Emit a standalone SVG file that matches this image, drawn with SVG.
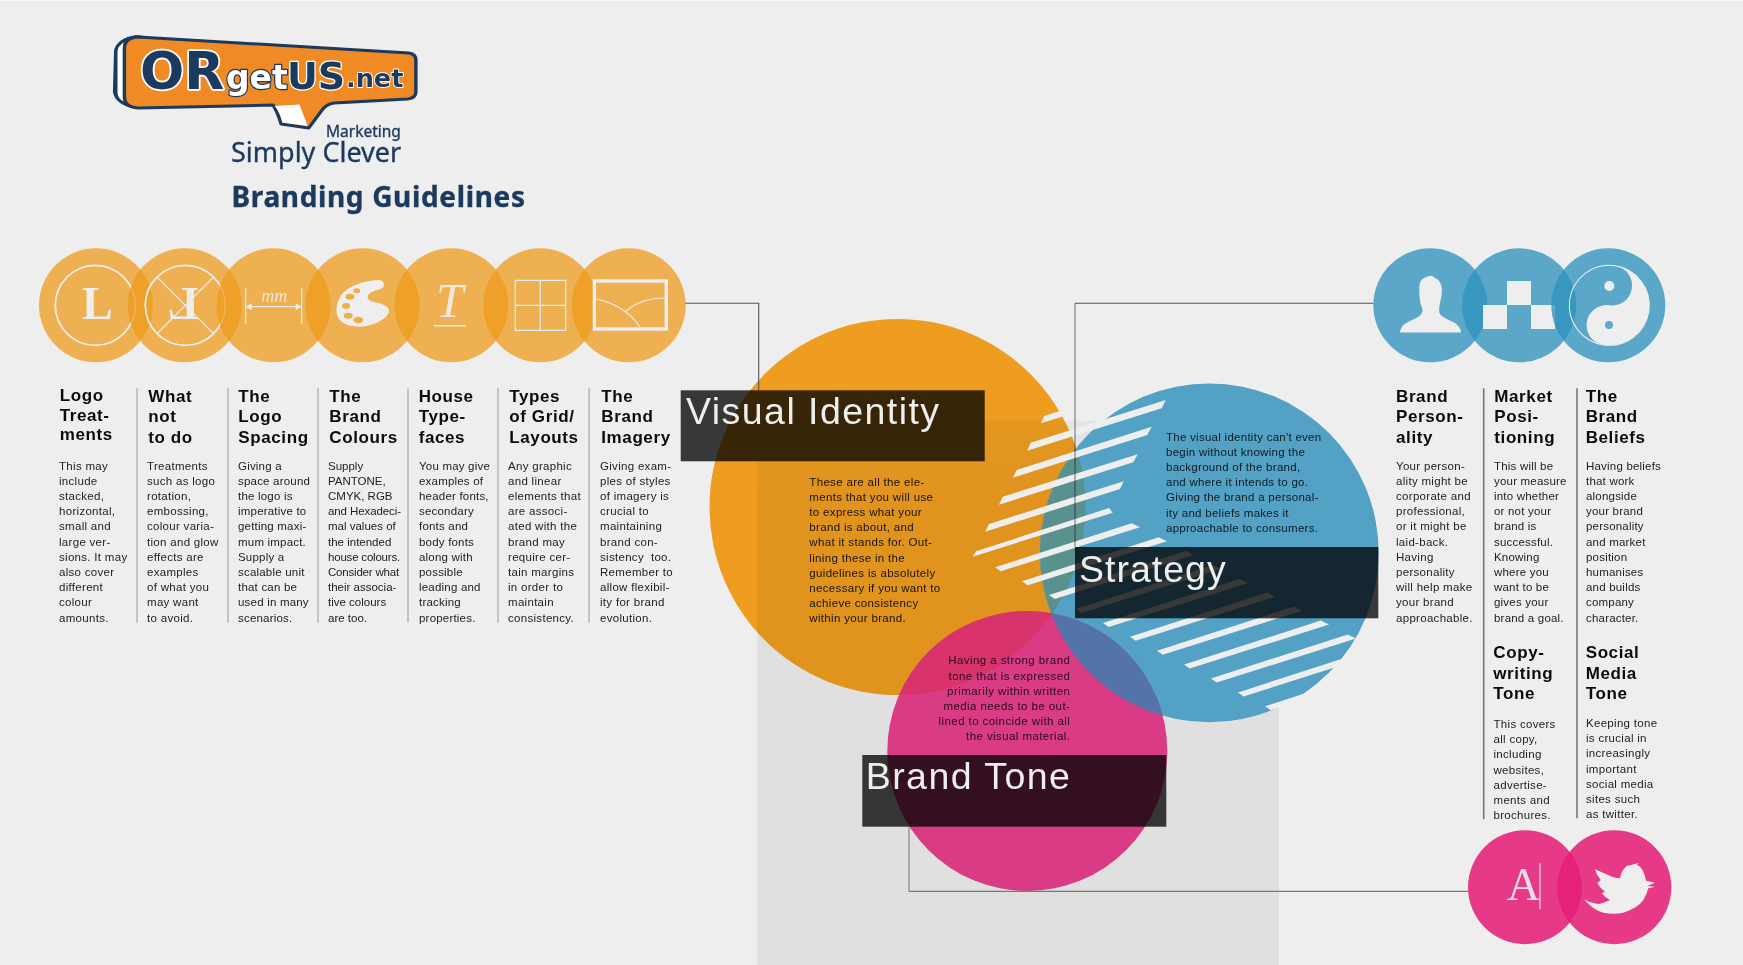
<svg xmlns="http://www.w3.org/2000/svg" width="1743" height="965" viewBox="0 0 1743 965">
<style>
text{font-family:"Liberation Sans",Arial,sans-serif}
.h{font-size:17px;font-weight:700;letter-spacing:.6px;fill:#0a0a0a}
.b{font-size:11.5px;letter-spacing:.3px;fill:#222;transform:translateY(.4px)}
.c{font-size:11.5px;letter-spacing:.33px;fill:#1a1208;transform:translateY(.4px)}
.t{font-size:37.5px;letter-spacing:1.45px;fill:#eee}
.or{fill:rgb(238,155,28);fill-opacity:.75}
.bl{fill:rgb(46,146,190);fill-opacity:.77}
.pk{fill:rgb(229,30,121);fill-opacity:.87}
.dark{fill:#3c3c3c;mix-blend-mode:multiply}
.ln{fill:none;stroke:#eee;stroke-width:1.2}
.ring{fill:none;stroke:#eee;stroke-width:1.8}
.thick{fill:none;stroke:#eee;stroke-width:3.4}
.div{stroke:#b5b5b5;stroke-width:1.5}
.div2{stroke:#777;stroke-width:1.6}
.stripe{fill:#eee}
.sf{font-family:"Liberation Serif","Times New Roman",serif;fill:#eee}
.brand{font-family:"Noto Sans",sans-serif;fill:#1c3a5e;stroke:#1c3a5e;stroke-width:.35px}
.word{font-family:"DejaVu Sans",sans-serif;font-weight:700;paint-order:stroke;stroke-linejoin:round}
</style>
<defs>
<linearGradient id="g" x1="0" y1="0" x2="0" y2="1"><stop offset="0" stop-color="#f6f6f6"/><stop offset=".25" stop-color="#f0f0f0"/><stop offset="1" stop-color="#f0f0f0"/></linearGradient>
<clipPath id="cO"><circle cx="897.5" cy="507" r="188"/></clipPath>
<clipPath id="cB"><circle cx="1209.3" cy="552.8" r="169.4"/></clipPath>
</defs>
<rect width="1743" height="965" fill="#eeeeee"/>
<rect width="1743" height="1" fill="#fafafa"/>

<g id="logo">
<g transform="scale(1.152 1)">
<path d="M118 35Q102 38 99 50L98 92Q100 105 118 109L125 109L125 36Z" fill="#1c3a5e"/>
<path d="M108 42Q102 46 102 52L102 92Q102 99 108 102Z" fill="#fff"/>
<path d="M120 37L355 53Q361 54 361 60L361 92Q361 98 354 99L290 103Q283 104 279 111L268 128L244 124Q241 112 237 105L120 108Q108 107 108 97L108 48Q108 38 120 37Z" fill="#f08a24" stroke="#1c3a5e" stroke-width="3" stroke-linejoin="round"/>
<path d="M238.500 106L260 104.500L267 126L245 122.500Q243 112 238.500 106Z" fill="#fff"/>
</g>
<text class="word" y="89">
<tspan x="140" font-size="52" fill="#1c3a5e" stroke="#fff" stroke-width="3.500">OR</tspan>
<tspan x="226" font-size="33" fill="#fff" stroke="#1c3a5e" stroke-width="2.500">get</tspan>
<tspan x="287" font-size="38" fill="#1c3a5e" stroke="#fff" stroke-width="2.500">US</tspan>
<tspan x="346" y="87" font-size="25.500" fill="#1c3a5e" stroke="#fff" stroke-width="1.800">.net</tspan>
</text>
<text class="brand" x="326" y="137.300" font-size="15.500">Marketing</text>
<text class="brand" x="231" y="161.700" font-size="27">Simply Clever</text>
<text class="brand" x="231.500" y="206.700" font-size="28" font-weight="700" letter-spacing=".65">Branding Guidelines</text>
</g>

<g id="grey-panel"><rect x="757.300" y="420.700" width="521.700" height="544.300" fill="url(#g)" style="mix-blend-mode:multiply"/></g>

<g id="visual-identity-circle"><circle cx="897.500" cy="507" r="188" fill="#ee9d20"/></g>
<rect x="757.300" y="420.700" width="521.700" height="300" fill="url(#g)" style="mix-blend-mode:multiply" clip-path="url(#cO)"/>
<g id="strategy-circle">
<circle cx="1209.300" cy="552.800" r="169.400" fill="#53a2c6"/>
<circle cx="1209.300" cy="552.800" r="169.400" fill="#59918f" clip-path="url(#cO)"/>
</g>
<g id="stripes">
<polygon class="stripe" points="1041,423.300 1044.300,416 1105,396.500 1100,405"/>
<polygon class="stripe" points="1027,450.700 1030.700,442.700 1165.700,400 1161.700,408.300"/>
<polygon class="stripe" points="1013,477.700 1016.700,470 1151.700,426.700 1147.300,435"/>
<polygon class="stripe" points="999,504.700 1002.700,496.700 1137.700,454.300 1133.300,462.300"/>
<polygon class="stripe" points="985.300,531.700 989,524 1123.700,481.300 1120,489"/>
<polygon class="stripe" points="972.700,556.700 976,551.300 1109,508 1112.700,512.700"/>
<polygon class="stripe" points="995,567.300 1000.700,571.300 1140,527.300 1131.700,523.300"/>
<polygon class="stripe" points="1022,581.200 1027.700,585.200 1167,541.200 1158.700,537.200"/>
<polygon class="stripe" points="1049,595.100 1054.700,599.100 1194,555.100 1185.700,551.100"/>
<polygon class="stripe" points="1076,609 1081.700,613 1221,569 1212.700,565"/>
<polygon class="stripe" points="1103,622.900 1108.700,626.900 1248,582.900 1239.700,578.900"/>
<polygon class="stripe" points="1130,636.800 1135.700,640.800 1275,596.800 1266.700,592.800"/>
<polygon class="stripe" points="1157,650.700 1162.700,654.700 1302,610.700 1293.700,606.700"/>
<polygon class="stripe" points="1184,664.600 1189.700,668.600 1329,624.600 1320.700,620.600"/>
<polygon class="stripe" points="1211,678.500 1216.700,682.500 1356,638.500 1347.700,634.500"/>
<polygon class="stripe" points="1238,692.400 1243.700,696.400 1355,661 1346,657.500"/>
<polygon class="stripe" points="1265,706.300 1270.700,710.300 1320,695 1312,691"/>
</g>
<g id="brand-tone-circle">
<circle cx="1027.300" cy="751" r="140" fill="#d93c84"/>
<circle cx="1027.300" cy="751" r="140" fill="#d9336c" clip-path="url(#cO)"/>
<circle cx="1027.300" cy="751" r="140" fill="#5373a9" clip-path="url(#cB)"/>
</g>

<g id="connectors" fill="none">
<path d="M685 303.300H758.700V390" stroke="#555" stroke-width="1.100"/>
<path d="M1373.300 303.300H1075" stroke="#555" stroke-width="1.100"/>
<path d="M1075 303.300V547" stroke="#a0a0a0" stroke-width="1.500" style="mix-blend-mode:multiply"/>
<path d="M909 826.700V891.300" stroke="#999" stroke-width="1.500"/>
<path d="M909 891.300H1468.300" stroke="#777" stroke-width="1.200"/>
</g>

<g id="visual-identity">
<rect class="dark" x="680.700" y="390.300" width="304" height="71"/>
<text class="t" x="686" y="424">Visual Identity</text>
<text class="c" y="485.300"><tspan x="809.300">These are all the ele-</tspan><tspan x="809.300" dy="15.200">ments that you will use</tspan><tspan x="809.300" dy="15.200">to express what your</tspan><tspan x="809.300" dy="15.200">brand is about, and</tspan><tspan x="809.300" dy="15.200">what it stands for. Out-</tspan><tspan x="809.300" dy="15.200">lining these in the</tspan><tspan x="809.300" dy="15.200">guidelines is absolutely</tspan><tspan x="809.300" dy="15.200">necessary if you want to</tspan><tspan x="809.300" dy="15.200">achieve consistency</tspan><tspan x="809.300" dy="15.200">within your brand.</tspan></text>
</g>
<g id="strategy">
<rect class="dark" x="1075" y="547" width="303.300" height="71.300"/>
<text class="t" x="1079" y="581.700" style="letter-spacing:1px">Strategy</text>
<text class="c" y="440.300" style="fill:#0c1a22;letter-spacing:.27px"><tspan x="1166">The visual identity can't even</tspan><tspan x="1166" dy="15.200">begin without knowing the</tspan><tspan x="1166" dy="15.200">background of the brand,</tspan><tspan x="1166" dy="15.200">and where it intends to go.</tspan><tspan x="1166" dy="15.200">Giving the brand a personal-</tspan><tspan x="1166" dy="15.200">ity and beliefs makes it</tspan><tspan x="1166" dy="15.200">approachable to consumers.</tspan></text>
</g>
<g id="brand-tone">
<rect class="dark" x="862.300" y="755" width="304" height="71.700"/>
<text class="t" x="865.700" y="789.300">Brand Tone</text>
<text class="c" y="664" text-anchor="end" style="fill:#2a0a1c;letter-spacing:.42px"><tspan x="1070.300">Having a strong brand</tspan><tspan x="1070.300" dy="15.200">tone that is expressed</tspan><tspan x="1070.300" dy="15.200">primarily within written</tspan><tspan x="1070.300" dy="15.200">media needs to be out-</tspan><tspan x="1070.300" dy="15.200">lined to coincide with all</tspan><tspan x="1070.300" dy="15.200">the visual material.</tspan></text>
</g>

<g id="logo-treatments">
<circle class="or" cx="96" cy="305.300" r="57"/>
<circle class="ring" cx="95.300" cy="305.300" r="40"/>
<text class="sf" x="82" y="319" font-size="46" font-weight="700">L</text>
<text class="h" y="401"><tspan x="59.700">Logo</tspan><tspan x="59.700" y="420.700">Treat-</tspan><tspan x="59.700" y="440">ments</tspan></text>
<text class="b" y="469.300"><tspan x="59">This may</tspan><tspan x="59" dy="15.200">include</tspan><tspan x="59" dy="15.200">stacked,</tspan><tspan x="59" dy="15.200">horizontal,</tspan><tspan x="59" dy="15.200">small and</tspan><tspan x="59" dy="15.200">large ver-</tspan><tspan x="59" dy="15.200">sions. It may</tspan><tspan x="59" dy="15.200">also cover</tspan><tspan x="59" dy="15.200">different</tspan><tspan x="59" dy="15.200">colour</tspan><tspan x="59" dy="15.200">amounts.</tspan></text>
</g>
<g id="what-not-to-do">
<circle class="or" cx="184.700" cy="305.300" r="57"/>
<circle class="ring" cx="185.300" cy="305.300" r="40"/>
<path class="ln" d="M156.800 276.800L213.800 333.800M213.800 276.800L156.800 333.800"/>
<text class="sf" x="0" y="0" font-size="46" font-weight="700" transform="translate(198.500 319) scale(-1 1)">L</text>
<text class="h" y="401.700"><tspan x="148.300">What</tspan><tspan x="148.300" dy="20.400">not</tspan><tspan x="148.300" dy="20.400">to do</tspan></text>
<text class="b" y="469.300"><tspan x="147">Treatments</tspan><tspan x="147" dy="15.200">such as logo</tspan><tspan x="147" dy="15.200">rotation,</tspan><tspan x="147" dy="15.200">embossing,</tspan><tspan x="147" dy="15.200">colour varia-</tspan><tspan x="147" dy="15.200">tion and glow</tspan><tspan x="147" dy="15.200">effects are</tspan><tspan x="147" dy="15.200">examples</tspan><tspan x="147" dy="15.200">of what you</tspan><tspan x="147" dy="15.200">may want</tspan><tspan x="147" dy="15.200">to avoid.</tspan></text>
</g>
<g id="logo-spacing">
<circle class="or" cx="273.500" cy="305.300" r="57"/>
<path class="ln" d="M245.700 287.700V324.300M301.700 287.700V324.300M249 306.700H298"/>
<path d="M245.700 306.700l6-3.500v7zM301.700 306.700l-6-3.500v7z" fill="#eee"/>
<text class="sf" x="274.300" y="302" font-size="18" font-style="italic" text-anchor="middle" fill-opacity=".85">mm</text>
<text class="h" y="401.700"><tspan x="238.300">The</tspan><tspan x="238.300" dy="20.400">Logo</tspan><tspan x="238.300" dy="20.400">Spacing</tspan></text>
<text class="b" y="469.300" style="letter-spacing:.2px"><tspan x="238">Giving a</tspan><tspan x="238" dy="15.200">space around</tspan><tspan x="238" dy="15.200">the logo is</tspan><tspan x="238" dy="15.200">imperative to</tspan><tspan x="238" dy="15.200">getting maxi-</tspan><tspan x="238" dy="15.200">mum impact.</tspan><tspan x="238" dy="15.200">Supply a</tspan><tspan x="238" dy="15.200">scalable unit</tspan><tspan x="238" dy="15.200">that can be</tspan><tspan x="238" dy="15.200">used in many</tspan><tspan x="238" dy="15.200">scenarios.</tspan></text>
</g>
<g id="brand-colours">
<circle class="or" cx="362.500" cy="305.300" r="57"/>
<path d="M378 280C360 281 345 288 340 297C335 306 335 317 342 322C350 328 365 328 376 323C385 319 390 314 389 310C387 305 380 303 374 302C367 301 366 296 370 293C376 289 384 290 384 285C384 281 381 280 378 280Z" fill="#eee"/>
<g fill="#eeae4c"><ellipse cx="356.700" cy="290.700" rx="3.500" ry="2.500"/><ellipse cx="350" cy="296.700" rx="4.500" ry="3"/><ellipse cx="346" cy="306" rx="4" ry="3"/><ellipse cx="348.300" cy="315.700" rx="4.500" ry="3"/><ellipse cx="358.300" cy="320" rx="5" ry="3.300"/></g>
<text class="h" y="401.700"><tspan x="329.300">The</tspan><tspan x="329.300" dy="20.400">Brand</tspan><tspan x="329.300" dy="20.400">Colours</tspan></text>
<text class="b" y="469.300" style="letter-spacing:0"><tspan x="328">Supply</tspan><tspan x="328" dy="15.200">PANTONE,</tspan><tspan x="328" dy="15.200">CMYK, RGB</tspan><tspan x="328" dy="15.200" letter-spacing="-.1">and Hexadeci-</tspan><tspan x="328" dy="15.200">mal values of</tspan><tspan x="328" dy="15.200">the intended</tspan><tspan x="328" dy="15.200" letter-spacing="-.2">house colours.</tspan><tspan x="328" dy="15.200" letter-spacing="-.2">Consider what</tspan><tspan x="328" dy="15.200">their associa-</tspan><tspan x="328" dy="15.200">tive colours</tspan><tspan x="328" dy="15.200">are too.</tspan></text>
</g>
<g id="house-typefaces">
<circle class="or" cx="451.300" cy="305.300" r="57"/>
<text class="sf" x="436" y="317.300" font-size="49" font-style="italic" fill-opacity=".9">T</text>
<path d="M434 325.700H466" stroke="#eee" stroke-width="1.500"/>
<text class="h" y="401.700"><tspan x="418.700">House</tspan><tspan x="418.700" dy="20.400">Type-</tspan><tspan x="418.700" dy="20.400">faces</tspan></text>
<text class="b" y="469.300" style="letter-spacing:.2px"><tspan x="419">You may give</tspan><tspan x="419" dy="15.200">examples of</tspan><tspan x="419" dy="15.200">header fonts,</tspan><tspan x="419" dy="15.200">secondary</tspan><tspan x="419" dy="15.200">fonts and</tspan><tspan x="419" dy="15.200">body fonts</tspan><tspan x="419" dy="15.200">along with</tspan><tspan x="419" dy="15.200">possible</tspan><tspan x="419" dy="15.200">leading and</tspan><tspan x="419" dy="15.200">tracking</tspan><tspan x="419" dy="15.200">properties.</tspan></text>
</g>
<g id="grid-layouts">
<circle class="or" cx="540.300" cy="305.300" r="57"/>
<path class="ln" d="M515.300 280.300H565.700V330.300H515.300ZM540.300 280.300V330.300M515.300 305.300H565.700"/>
<text class="h" y="401.700"><tspan x="509.300">Types</tspan><tspan x="509.300" dy="20.400">of Grid/</tspan><tspan x="509.300" dy="20.400">Layouts</tspan></text>
<text class="b" y="469.300"><tspan x="508">Any graphic</tspan><tspan x="508" dy="15.200">and linear</tspan><tspan x="508" dy="15.200">elements that</tspan><tspan x="508" dy="15.200">are associ-</tspan><tspan x="508" dy="15.200">ated with the</tspan><tspan x="508" dy="15.200">brand may</tspan><tspan x="508" dy="15.200">require cer-</tspan><tspan x="508" dy="15.200">tain margins</tspan><tspan x="508" dy="15.200">in order to</tspan><tspan x="508" dy="15.200">maintain</tspan><tspan x="508" dy="15.200">consistency.</tspan></text>
</g>
<g id="brand-imagery">
<circle class="or" cx="628.700" cy="305.300" r="57"/>
<rect class="thick" x="594.400" y="281" width="71.900" height="48"/>
<path class="ln" d="M596 299Q625 305 640 327M625 312Q640 298 665 298"/>
<text class="h" y="401.700"><tspan x="601.300">The</tspan><tspan x="601.300" dy="20.400">Brand</tspan><tspan x="601.300" dy="20.400">Imagery</tspan></text>
<text class="b" y="469.300"><tspan x="600">Giving exam-</tspan><tspan x="600" dy="15.200">ples of styles</tspan><tspan x="600" dy="15.200">of imagery is</tspan><tspan x="600" dy="15.200">crucial to</tspan><tspan x="600" dy="15.200">maintaining</tspan><tspan x="600" dy="15.200">brand con-</tspan><tspan x="600" dy="15.200" style="white-space:pre">sistency  too.</tspan><tspan x="600" dy="15.200">Remember to</tspan><tspan x="600" dy="15.200">allow flexibil-</tspan><tspan x="600" dy="15.200">ity for brand</tspan><tspan x="600" dy="15.200">evolution.</tspan></text>
</g>
<g id="left-dividers" class="div">
<path d="M137 388.300V622.700M228 388.300V622.700M318 388.300V622.700M408 388.300V622.700M498 388.300V622.700M589 388.300V622.700"/>
</g>

<g id="brand-personality">
<circle class="bl" cx="1430.300" cy="305.300" r="57"/>
<path d="M1432 275.700C1426 276 1420 279 1419.500 285C1419 293 1419.500 303 1422.500 309C1422.500 313 1421 315 1418 317C1411 321 1404 323 1402 327C1400.500 329 1400 331 1400 332.500H1461C1461 329 1459 326 1455 323C1450 320 1443 318 1440 314C1438 311 1440 303 1441.500 296C1442.500 288 1442 281 1435 278Z" fill="#eee"/>
<text class="h" y="401.700"><tspan x="1396">Brand</tspan><tspan x="1396" dy="20.400">Person-</tspan><tspan x="1396" dy="20.400">ality</tspan></text>
<text class="b" y="469.300"><tspan x="1396">Your person-</tspan><tspan x="1396" dy="15.200">ality might be</tspan><tspan x="1396" dy="15.200">corporate and</tspan><tspan x="1396" dy="15.200">professional,</tspan><tspan x="1396" dy="15.200">or it might be</tspan><tspan x="1396" dy="15.200">laid-back.</tspan><tspan x="1396" dy="15.200">Having</tspan><tspan x="1396" dy="15.200">personality</tspan><tspan x="1396" dy="15.200">will help make</tspan><tspan x="1396" dy="15.200">your brand</tspan><tspan x="1396" dy="15.200">approachable.</tspan></text>
</g>
<g id="market-positioning">
<circle class="bl" cx="1519.300" cy="305.300" r="57"/>
<path d="M1507 281H1531V305H1507ZM1483 305H1507V329H1483ZM1531 305H1555V329H1531Z" fill="#eee"/>
<text class="h" y="401.700"><tspan x="1494.300">Market</tspan><tspan x="1494.300" dy="20.400">Posi-</tspan><tspan x="1494.300" dy="20.400">tioning</tspan></text>
<text class="b" y="469.300" style="letter-spacing:.2px"><tspan x="1494">This will be</tspan><tspan x="1494" dy="15.200">your measure</tspan><tspan x="1494" dy="15.200">into whether</tspan><tspan x="1494" dy="15.200">or not your</tspan><tspan x="1494" dy="15.200">brand is</tspan><tspan x="1494" dy="15.200">successful.</tspan><tspan x="1494" dy="15.200">Knowing</tspan><tspan x="1494" dy="15.200">where you</tspan><tspan x="1494" dy="15.200">want to be</tspan><tspan x="1494" dy="15.200">gives your</tspan><tspan x="1494" dy="15.200">brand a goal.</tspan></text>
</g>
<g id="brand-beliefs">
<circle class="bl" cx="1608.300" cy="305.300" r="57"/>
<g transform="rotate(8 1609.300 305.300)">
<path d="M1609.300 265.300A40 40 0 0 1 1609.300 345.300A20 20 0 0 1 1609.300 305.300A20 20 0 0 0 1609.300 265.300Z" fill="#eee"/>
<circle cx="1609.300" cy="305.300" r="40" fill="none" stroke="#eee" stroke-width="1"/>
</g>
<circle cx="1609.300" cy="286" r="5" fill="#eee"/>
<circle cx="1609" cy="325" r="4" fill="#5fa8cb"/>
<text class="h" y="401.700"><tspan x="1585.700">The</tspan><tspan x="1585.700" dy="20.400">Brand</tspan><tspan x="1585.700" dy="20.400">Beliefs</tspan></text>
<text class="b" y="469.300" style="letter-spacing:.2px"><tspan x="1586">Having beliefs</tspan><tspan x="1586" dy="15.200">that work</tspan><tspan x="1586" dy="15.200">alongside</tspan><tspan x="1586" dy="15.200">your brand</tspan><tspan x="1586" dy="15.200">personality</tspan><tspan x="1586" dy="15.200">and market</tspan><tspan x="1586" dy="15.200">position</tspan><tspan x="1586" dy="15.200">humanises</tspan><tspan x="1586" dy="15.200">and builds</tspan><tspan x="1586" dy="15.200">company</tspan><tspan x="1586" dy="15.200">character.</tspan></text>
</g>
<g id="right-dividers" class="div2">
<path d="M1483.700 388.300V819.300M1577 388.300V818.300"/>
</g>
<g id="copywriting-tone">
<circle class="pk" cx="1525" cy="887.200" r="57"/>
<text class="sf" x="1507" y="900" font-size="46" fill-opacity=".9">A</text>
<path d="M1540 863.300V909.300" stroke="#f4b8d4" stroke-width="1.500"/>
<text class="h" y="658.300"><tspan x="1493.300">Copy-</tspan><tspan x="1493.300" dy="20.400">writing</tspan><tspan x="1493.300" dy="20.400">Tone</tspan></text>
<text class="b" y="727.700"><tspan x="1493.500">This covers</tspan><tspan x="1493.500" dy="15.200">all copy,</tspan><tspan x="1493.500" dy="15.200">including</tspan><tspan x="1493.500" dy="15.200">websites,</tspan><tspan x="1493.500" dy="15.200">advertise-</tspan><tspan x="1493.500" dy="15.200">ments and</tspan><tspan x="1493.500" dy="15.200">brochures.</tspan></text>
</g>
<g id="social-media-tone">
<circle class="pk" cx="1614.300" cy="887.200" r="57"/>
<path d="M1584 899.300Q1593 910 1603.300 912.700Q1614 915 1623.300 912.700Q1638 908 1643.300 900Q1647 894 1648.300 888.300L1655 886.700L1647.300 886L1655 882.700L1646 880.700Q1645 875 1643.300 871.700Q1641 866 1636.700 865L1639 863L1626.700 866Q1621 871 1620 878.300Q1613 878 1608.300 875Q1601 872 1595 869.300Q1597 876 1600.700 880L1597.300 883.300Q1600 888 1605 891.700L1601.700 893.300Q1605 898 1610 900Q1604 903 1598.300 904Q1590 903 1584 899.300Z" fill="#eee"/>
<text class="h" y="658.300"><tspan x="1585.700">Social</tspan><tspan x="1585.700" dy="20.400">Media</tspan><tspan x="1585.700" dy="20.400">Tone</tspan></text>
<text class="b" y="726.700"><tspan x="1586">Keeping tone</tspan><tspan x="1586" dy="15.200">is crucial in</tspan><tspan x="1586" dy="15.200">increasingly</tspan><tspan x="1586" dy="15.200">important</tspan><tspan x="1586" dy="15.200">social media</tspan><tspan x="1586" dy="15.200">sites such</tspan><tspan x="1586" dy="15.200">as twitter.</tspan></text>
</g>
</svg>
